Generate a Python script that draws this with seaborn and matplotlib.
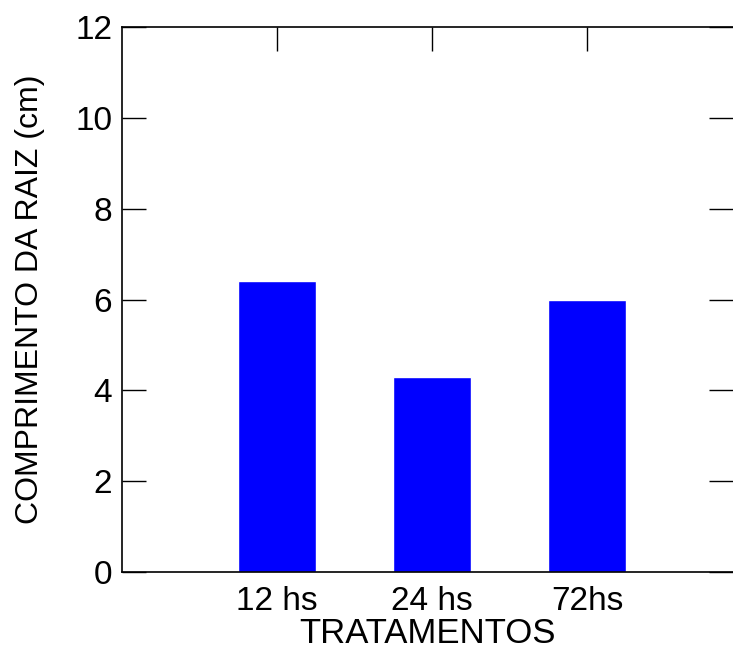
import matplotlib
matplotlib.use("Agg")
import matplotlib.pyplot as plt
import pandas as pd
import seaborn as sns

tratamentos = ["12 hs", "24 hs", "72hs"]
comprimento = [6.4, 4.3, 6.0]

df = pd.DataFrame({"tratamento": tratamentos, "comprimento": comprimento})

sns.set_style("ticks")
plt.rcParams["font.family"] = ["Liberation Sans", "DejaVu Sans"]
plt.rcParams["text.color"] = "black"
plt.rcParams["axes.labelcolor"] = "black"
plt.rcParams["xtick.color"] = "black"
plt.rcParams["ytick.color"] = "black"

fig = plt.figure(figsize=(7.33, 6.53), dpi=100)
ax = fig.add_axes([122 / 733, 1 - 572 / 653, (733 - 122) / 733, (572 - 27) / 653])

sns.barplot(data=df, x="tratamento", y="comprimento", color="#0000ff",
            saturation=1, width=0.5, ax=ax)

ax.set_xlim(-1, 2.94)
ax.set_ylim(0, 12)
ax.set_yticks(range(0, 13, 2))
ax.set_xlabel("TRATAMENTOS", fontsize=25, labelpad=0, color="black")
ax.set_ylabel("COMPRIMENTO DA RAIZ (cm)", fontsize=23, labelpad=22, color="black")

for s in ["left", "top", "bottom"]:
    ax.spines[s].set_visible(True)
    ax.spines[s].set_linewidth(1.2)
    ax.spines[s].set_color("black")
ax.spines["right"].set_visible(False)

ax.tick_params(axis="y", direction="in", length=17, width=1, left=True,
               right=True, labelsize=24, pad=7, colors="black")
ax.tick_params(axis="x", direction="in", length=17, width=1, bottom=False,
               top=True, labelsize=24, pad=10, colors="black")

fig.savefig("out.png", dpi=100)
